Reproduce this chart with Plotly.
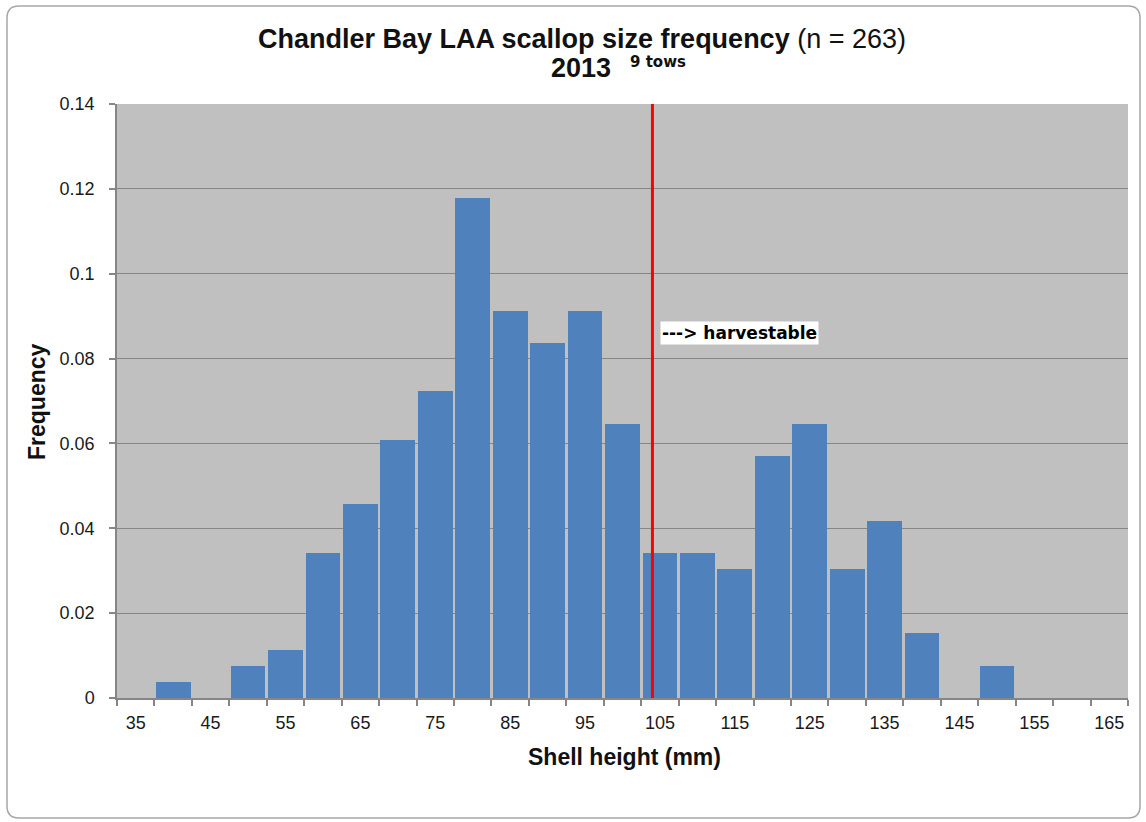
import plotly.graph_objects as go

# ---- data ----
bin_centers = [35, 40, 45, 50, 55, 60, 65, 70, 75, 80, 85, 90, 95, 100,
               105, 110, 115, 120, 125, 130, 135, 140, 145, 150, 155, 160, 165]
counts = [0, 1, 0, 2, 3, 9, 12, 16, 19, 31, 24, 22, 24, 17,
          9, 9, 8, 15, 17, 8, 11, 4, 0, 2, 0, 0, 0]
n_total = 263
frequency = [c / n_total for c in counts]
label_vals = [35, 45, 55, 65, 75, 85, 95, 105, 115, 125, 135, 145, 155, 165]
y_ticks = [0, 0.02, 0.04, 0.06, 0.08, 0.1, 0.12, 0.14]
y_tick_text = ["0", "0.02", "0.04", "0.06", "0.08", "0.1", "0.12", "0.14"]
harvest_size = 104

W, H = 1146, 822
ML, MR, MT, MB = 117, 18, 104, 124
pw, ph = W - ML - MR, H - MT - MB

def px(x):
    return (x - ML) / pw

def py(y):
    return (H - MB - y) / ph

fig = go.Figure()
fig.add_trace(go.Bar(
    x=bin_centers, y=frequency, width=4.65,
    marker=dict(color="#4F81BD", line=dict(width=0)),
    hoverinfo="x+y",
))

tick_font = dict(family="Liberation Sans, Arial", size=18, color="#1a1a1a")

fig.update_layout(
    width=W, height=H,
    margin=dict(l=ML, r=MR, t=MT, b=MB),
    paper_bgcolor="white",
    plot_bgcolor="#C0C0C0",
    showlegend=False,
    bargap=0,
    xaxis=dict(
        range=[32.5, 167.5],
        tickvals=label_vals,
        ticktext=[str(v) for v in label_vals],
        ticks="",
        ticklabelstandoff=8,
        showgrid=False,
        showline=True, linecolor="#868686", linewidth=1.5,
        tickfont=tick_font,
        minor=dict(tick0=32.5, dtick=5, ticks="outside", ticklen=6,
                   tickcolor="#868686", tickwidth=1.5, showgrid=False),
        zeroline=False,
        fixedrange=True,
    ),
    yaxis=dict(
        range=[0, 0.14],
        tickvals=y_ticks,
        ticktext=y_tick_text,
        ticks="outside", ticklen=6, tickcolor="#868686", tickwidth=1.5,
        ticklabelstandoff=11,
        showgrid=True, gridcolor="#868686", gridwidth=1.3,
        showline=True, linecolor="#868686", linewidth=1.5,
        tickfont=tick_font,
        zeroline=False,
        fixedrange=True,
    ),
)

# red harvest line
fig.add_shape(type="line", xref="x", yref="paper",
              x0=harvest_size, x1=harvest_size, y0=0, y1=1,
              line=dict(color="#FF0000", width=3))

# harvestable label
fig.add_annotation(
    x=105, y=py(333), xref="x", yref="paper",
    text="<b>---> harvestable</b>", showarrow=False,
    font=dict(family="DejaVu Sans, Verdana", size=17, color="black"),
    bgcolor="white", borderpad=1, xanchor="left", yanchor="middle",
)

# axis titles
axis_title_font = dict(family="Liberation Sans, Arial", size=23, color="#111")
fig.add_annotation(
    x=px(624), y=py(757), xref="paper", yref="paper",
    text="<b>Shell height (mm)</b>", showarrow=False, font=axis_title_font,
    xanchor="center", yanchor="middle",
)
fig.add_annotation(
    x=px(37), y=py(402), xref="paper", yref="paper",
    text="<b>Frequency</b>", showarrow=False, font=axis_title_font,
    textangle=-90, xanchor="center", yanchor="middle",
)

# titles
title_font = dict(family="Liberation Sans, Arial", size=27, color="#111")
fig.add_annotation(
    x=px(582), y=py(39), xref="paper", yref="paper",
    text="<b>Chandler Bay LAA scallop size frequency</b> (n = 263)",
    showarrow=False, font=title_font, xanchor="center", yanchor="middle",
)
fig.add_annotation(
    x=px(581), y=py(68), xref="paper", yref="paper",
    text="<b>2013</b>", showarrow=False, font=title_font,
    xanchor="center", yanchor="middle",
)
fig.add_annotation(
    x=px(628), y=py(62), xref="paper", yref="paper",
    text="<b>9 tows</b>", showarrow=False,
    font=dict(family="DejaVu Sans, Verdana", size=15, color="#111"),
    xanchor="left", yanchor="middle",
)

# rounded outer border
x0, x1 = px(7), px(1140)
y0, y1 = py(818), py(6)
rx, ry = 12 / pw, 12 / ph
path = (f"M {x0+rx},{y1} L {x1-rx},{y1} Q {x1},{y1} {x1},{y1-ry} "
        f"L {x1},{y0+ry} Q {x1},{y0} {x1-rx},{y0} "
        f"L {x0+rx},{y0} Q {x0},{y0} {x0},{y0+ry} "
        f"L {x0},{y1-ry} Q {x0},{y1} {x0+rx},{y1} Z")
fig.add_shape(type="path", xref="paper", yref="paper", path=path,
              line=dict(color="#A6A6A6", width=1.5), layer="below")

fig.write_html("out.html")
